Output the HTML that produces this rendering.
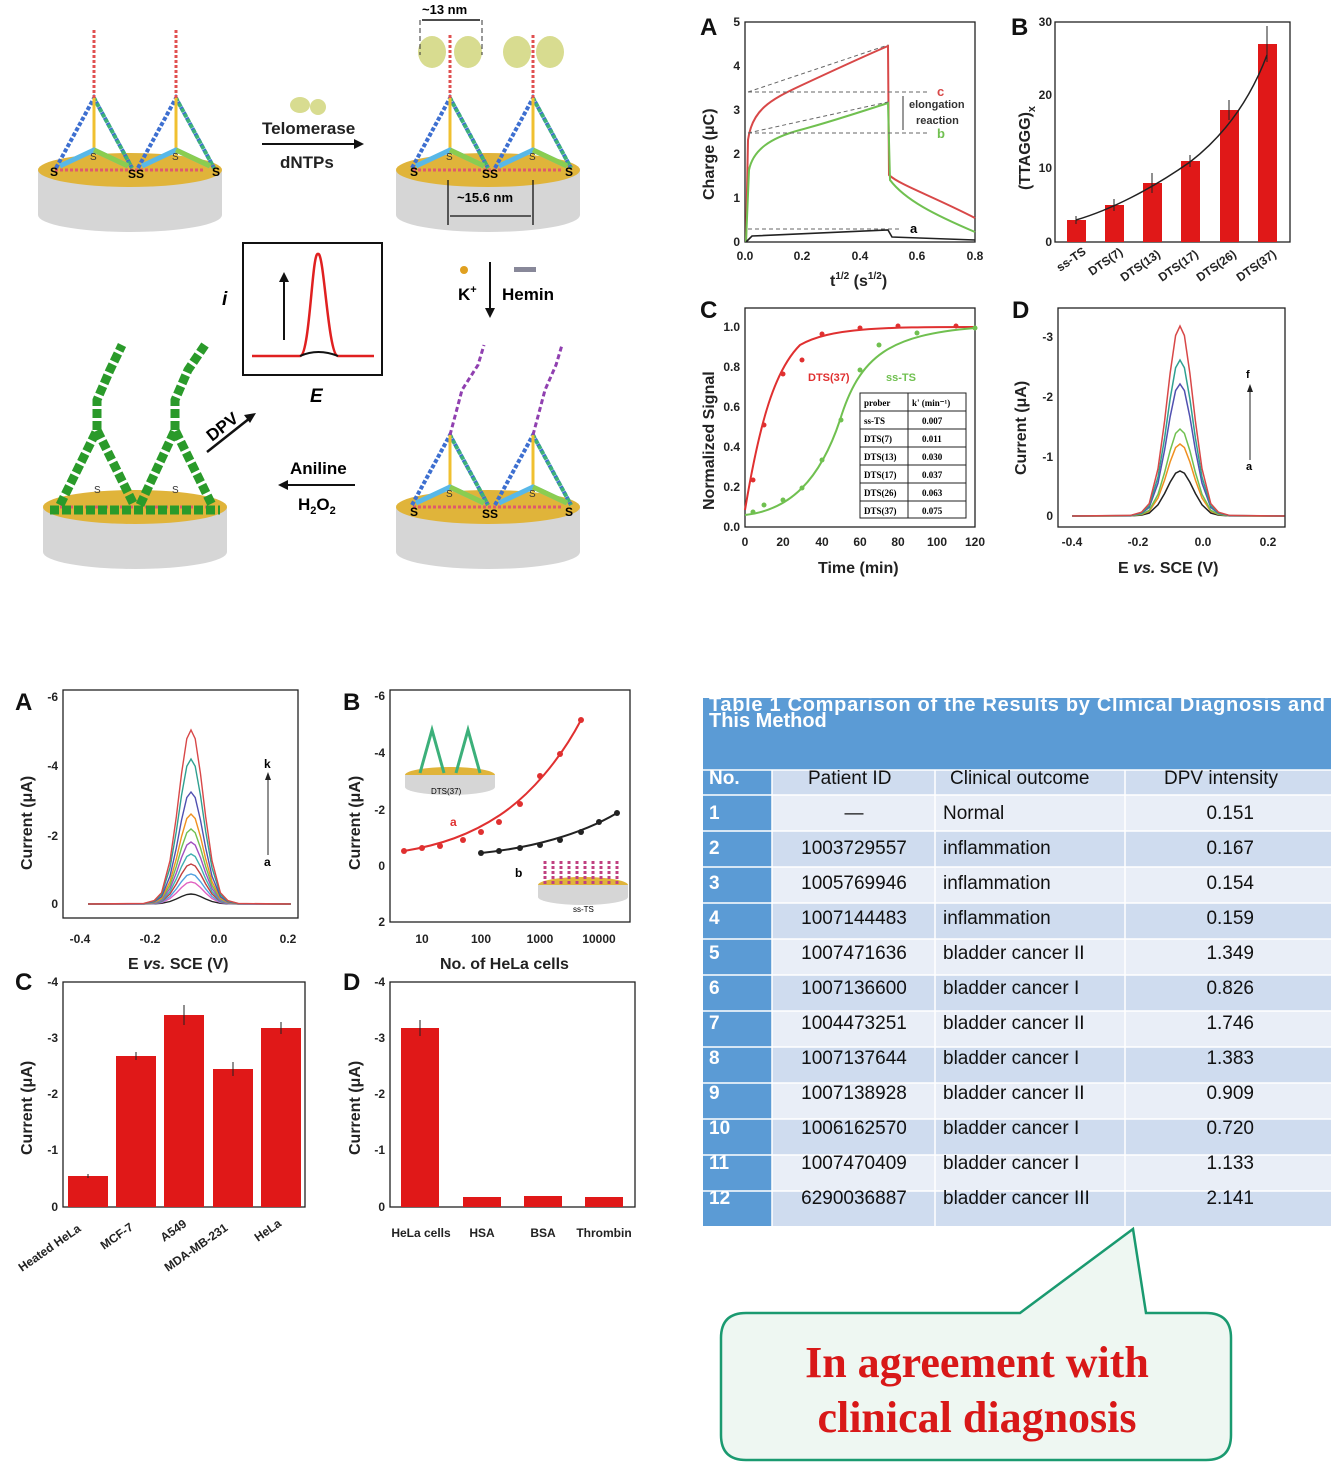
<!DOCTYPE html>
<html><head><meta charset="utf-8"><style>
body{margin:0;background:#fff;}
svg{display:block;font-family:"Liberation Sans",Arial,sans-serif;}
.ax{fill:none;stroke:#222;stroke-width:1.3}
.t{font-size:12px;font-weight:bold;fill:#222}
.lab{font-size:16px;font-weight:bold;fill:#222}
.pl{font-size:24px;font-weight:bold;fill:#111}
.g{vector-effect:non-scaling-stroke;fill:none}
.td{font-family:"Liberation Sans",sans-serif;font-size:19px;fill:#111}
.tn{font-family:"Liberation Sans",sans-serif;font-size:19px;font-weight:bold;fill:#fff}
</style></head><body>
<svg width="1334" height="1471" viewBox="0 0 1334 1471" xmlns="http://www.w3.org/2000/svg">
<defs>
<path id="gs" class="g" d="M-98,0 L-45,0.003 L-35,0.02 L-28,0.065 L-20,0.249 L-14,0.5 L-9,0.75 L-4,0.95 L0,1 L4,0.95 L9,0.75 L14,0.5 L20,0.249 L28,0.065 L35,0.02 L45,0.003 L95,0"/>
<g id="elec">
<path d="M-92,0 L-92,45 A92,17 0 0 0 92,45 L92,0 Z" fill="#d6d6d6"/>
<ellipse cx="0" cy="0" rx="92" ry="17" fill="#e0b43a"/>
<path d="M-75,0 L75,0" stroke="#e05a6a" stroke-width="3" stroke-dasharray="3 2"/>
</g>
<g id="tet">
<path d="M-38,0 L0,-70 L38,0" fill="none" stroke="#3d6fd0" stroke-width="4" stroke-dasharray="4 2"/>
<path d="M0,-70 L38,0" fill="none" stroke="#3cb07a" stroke-width="4" stroke-dasharray="4 2"/>
<path d="M0,-70 L0,-10" stroke="#f0c030" stroke-width="3"/>
<path d="M-34,-2 L0,-18 L34,-2" fill="none" stroke="#58b8e8" stroke-width="5"/>
<path d="M0,-18 L34,-2" fill="none" stroke="#8acd50" stroke-width="5"/>
<text x="-4" y="-8" font-size="10" fill="#333">S</text>
</g>
</defs>

<!-- Schematic -->
<use href="#elec" x="130" y="170"/>
<use href="#tet" x="94" y="168"/><use href="#tet" x="176" y="168"/>
<path d="M94,98 l0,-70" stroke="#e05050" stroke-width="3" stroke-dasharray="3 2"/>
<path d="M176,98 l0,-70" stroke="#e05050" stroke-width="3" stroke-dasharray="3 2"/>
<text x="50" y="176" font-size="12" font-weight="bold">S</text><text x="128" y="178" font-size="12" font-weight="bold">SS</text><text x="212" y="176" font-size="12" font-weight="bold">S</text>

<use href="#elec" x="488" y="170"/>
<use href="#tet" x="450" y="168"/><use href="#tet" x="533" y="168"/>
<path d="M450,98 l0,-65" stroke="#e05050" stroke-width="3" stroke-dasharray="3 2"/>
<path d="M533,98 l0,-65" stroke="#e05050" stroke-width="3" stroke-dasharray="3 2"/>
<ellipse cx="432" cy="52" rx="14" ry="16" fill="#d8dc90"/><ellipse cx="468" cy="52" rx="14" ry="16" fill="#d8dc90"/>
<ellipse cx="517" cy="52" rx="14" ry="16" fill="#d8dc90"/><ellipse cx="550" cy="52" rx="14" ry="16" fill="#d8dc90"/>
<path d="M420,20 L420,55 M482,20 L482,55" stroke="#333" stroke-dasharray="5 3"/>
<path d="M422,20 L480,20" stroke="#111" stroke-width="1.5"/>
<text x="422" y="14" font-size="13" font-weight="bold">~13 nm</text>
<text x="410" y="176" font-size="12" font-weight="bold">S</text><text x="482" y="178" font-size="12" font-weight="bold">SS</text><text x="565" y="176" font-size="12" font-weight="bold">S</text>
<path d="M448,180 L448,225 M533,180 L533,225 M450,216 L531,216" stroke="#111" stroke-width="1.3"/>
<text x="457" y="202" font-size="13" font-weight="bold">~15.6 nm</text>

<ellipse cx="300" cy="105" rx="10" ry="8" fill="#d8dc90"/><ellipse cx="318" cy="107" rx="8" ry="8" fill="#d8dc90"/>
<text x="262" y="134" font-size="17" font-weight="bold" fill="#222">Telomerase</text>
<path d="M262,144 L360,144" stroke="#111" stroke-width="2"/><path d="M364,144 l-10,-5 l0,10z" fill="#111"/>
<text x="280" y="168" font-size="17" font-weight="bold" fill="#222">dNTPs</text>

<circle cx="464" cy="270" r="4" fill="#e0a020"/><rect x="514" y="267" width="22" height="5" fill="#889"/>
<text x="458" y="300" font-size="17" font-weight="bold">K<tspan font-size="11" dy="-7">+</tspan></text>
<text x="502" y="300" font-size="17" font-weight="bold">Hemin</text>
<path d="M490,262 L490,312" stroke="#111" stroke-width="2"/><path d="M490,318 l-5,-10 l10,0z" fill="#111"/>

<rect x="243" y="243" width="139" height="132" fill="#fff" stroke="#111" stroke-width="2"/>
<path d="M252,356 L300,356 C310,356 312,250 318,254 C324,250 328,356 338,356 L374,356" fill="none" stroke="#e02020" stroke-width="2.5"/>
<path d="M300,356 Q318,348 338,356" fill="none" stroke="#111" stroke-width="2"/>
<path d="M284,340 L284,280" stroke="#111" stroke-width="2"/><path d="M284,272 l-5,10 l10,0z" fill="#111"/>
<text x="222" y="305" font-size="19" font-weight="bold" font-style="italic">i</text>
<text x="310" y="402" font-size="19" font-weight="bold" font-style="italic">E</text>

<use href="#elec" x="488" y="507"/>
<use href="#tet" x="450" y="505"/><use href="#tet" x="533" y="505"/>
<path d="M450,435 L462,390 L478,365 L484,345" fill="none" stroke="#9040b0" stroke-width="3" stroke-dasharray="5 3"/>
<path d="M533,435 L545,390 L556,365 L562,345" fill="none" stroke="#9040b0" stroke-width="3" stroke-dasharray="5 3"/>
<text x="410" y="516" font-size="12" font-weight="bold">S</text><text x="482" y="518" font-size="12" font-weight="bold">SS</text><text x="565" y="516" font-size="12" font-weight="bold">S</text>

<text x="290" y="474" font-size="17" font-weight="bold">Aniline</text>
<path d="M285,485 L355,485" stroke="#111" stroke-width="2"/><path d="M278,485 l10,-5 l0,10z" fill="#111"/>
<text x="298" y="510" font-size="17" font-weight="bold">H<tspan font-size="11" dy="4">2</tspan><tspan dy="-4">O</tspan><tspan font-size="11" dy="4">2</tspan></text>
<text x="0" y="0" font-size="17" font-weight="bold" transform="translate(212,442) rotate(-38)">DPV</text>
<path d="M207,452 L250,418" stroke="#111" stroke-width="2.5"/><path d="M256,413 l-12,2 l6,8z" fill="#111"/>

<use href="#elec" x="135" y="507"/>
<g stroke="#2a9a2a" stroke-width="9" stroke-dasharray="9 3" fill="none">
<path d="M60,505 L97,430 L134,505"/><path d="M140,505 L175,430 L212,505"/>
<path d="M97,430 L97,400 L110,370 L122,345"/><path d="M175,430 L175,400 L188,370 L205,345"/>
<path d="M50,510 L220,510"/>
</g>
<text x="94" y="493" font-size="10" fill="#333">S</text><text x="172" y="493" font-size="10" fill="#333">S</text>

<!-- Top-right A -->
<text x="700" y="35" class="pl">A</text>
<rect x="745" y="22" width="230" height="220" class="ax"/>
<g class="t" text-anchor="end"><text x="740" y="246">0</text><text x="740" y="202">1</text><text x="740" y="158">2</text><text x="740" y="114">3</text><text x="740" y="70">4</text><text x="740" y="26">5</text></g>
<g class="t" text-anchor="middle"><text x="745" y="260">0.0</text><text x="802" y="260">0.2</text><text x="860" y="260">0.4</text><text x="917" y="260">0.6</text><text x="975" y="260">0.8</text></g>
<text class="lab" x="0" y="0" transform="translate(714,200) rotate(-90)">Charge (μC)</text>
<text class="lab" x="830" y="286">t<tspan font-size="10" dy="-7">1/2</tspan><tspan dy="7"> (s</tspan><tspan font-size="10" dy="-7">1/2</tspan><tspan dy="7">)</tspan></text>
<path d="M746,242 L748,140 C752,110 770,100 800,86 C830,72 860,58 888,46 L889,175 C900,185 930,195 975,218" fill="none" stroke="#d84848" stroke-width="2"/>
<path d="M746,242 L749,170 C753,150 770,138 800,130 C830,122 860,112 888,103 L890,180 C905,200 935,215 975,232" fill="none" stroke="#70c050" stroke-width="2"/>
<path d="M746,242 L752,236 L888,230 L892,237 L975,240" fill="none" stroke="#222" stroke-width="1.6"/>
<g stroke="#666" stroke-dasharray="4 3" fill="none"><path d="M748,92 L888,45"/><path d="M748,92 L930,92"/><path d="M748,133 L888,102"/><path d="M748,133 L930,133"/><path d="M748,229 L900,229"/></g>
<path d="M903,96 L903,130" stroke="#333"/>
<text x="909" y="108" font-size="11" font-weight="bold" fill="#333">elongation</text><text x="916" y="124" font-size="11" font-weight="bold" fill="#333">reaction</text>
<text x="937" y="96" font-size="13" fill="#d84848" font-weight="bold">c</text><text x="937" y="138" font-size="13" fill="#70c050" font-weight="bold">b</text><text x="910" y="233" font-size="13" font-weight="bold">a</text>

<!-- Top-right B -->
<text x="1011" y="35" class="pl">B</text>
<rect x="1055" y="22" width="235" height="220" class="ax"/>
<g class="t" text-anchor="end" font-size="10"><text x="1052" y="246">0</text><text x="1052" y="172">10</text><text x="1052" y="99">20</text><text x="1052" y="26">30</text></g>
<text class="lab" x="0" y="0" font-size="15" transform="translate(1030,190) rotate(-90)">(TTAGGG)<tspan font-size="11" dy="5">x</tspan></text>
<g fill="#e01818"><rect x="1067" y="220" width="19" height="22"/><rect x="1105" y="205" width="19" height="37"/><rect x="1143" y="183" width="19" height="59"/><rect x="1181" y="161" width="19" height="81"/><rect x="1220" y="110" width="19" height="132"/><rect x="1258" y="44" width="19" height="198"/></g>
<path d="M1076,220 C1110,210 1150,190 1190,162 C1225,135 1250,100 1267,55" fill="none" stroke="#222" stroke-width="1.5"/>
<g stroke="#222"><path d="M1076,216 v8 M1114,199 v12 M1152,173 v20 M1190,155 v12 M1229,100 v20 M1267,26 v36"/></g>
<g class="t" font-size="10"><text transform="translate(1060,272) rotate(-35)">ss-TS</text><text transform="translate(1092,276) rotate(-35)">DTS(7)</text><text transform="translate(1124,282) rotate(-35)">DTS(13)</text><text transform="translate(1162,282) rotate(-35)">DTS(17)</text><text transform="translate(1200,282) rotate(-35)">DTS(26)</text><text transform="translate(1240,282) rotate(-35)">DTS(37)</text></g>

<!-- Top-right C -->
<text x="700" y="318" class="pl">C</text>
<rect x="745" y="308" width="230" height="219" class="ax"/>
<g class="t" text-anchor="end"><text x="740" y="531">0.0</text><text x="740" y="491">0.2</text><text x="740" y="451">0.4</text><text x="740" y="411">0.6</text><text x="740" y="371">0.8</text><text x="740" y="331">1.0</text></g>
<g class="t" text-anchor="middle"><text x="745" y="546">0</text><text x="783" y="546">20</text><text x="822" y="546">40</text><text x="860" y="546">60</text><text x="898" y="546">80</text><text x="937" y="546">100</text><text x="975" y="546">120</text></g>
<text class="lab" x="0" y="0" transform="translate(714,510) rotate(-90)">Normalized Signal</text>
<text class="lab" x="818" y="573">Time (min)</text>
<path d="M745,510 C760,420 775,370 800,345 C830,328 880,327 975,327" fill="none" stroke="#e03030" stroke-width="2"/>
<path d="M745,515 C790,510 820,480 840,420 C860,355 890,335 975,328" fill="none" stroke="#70c050" stroke-width="2"/>
<g fill="#e03030"><circle cx="753" cy="480" r="2.5"/><circle cx="764" cy="425" r="2.5"/><circle cx="783" cy="374" r="2.5"/><circle cx="802" cy="360" r="2.5"/><circle cx="822" cy="334" r="2.5"/><circle cx="860" cy="328" r="2.5"/><circle cx="898" cy="326" r="2.5"/><circle cx="956" cy="326" r="2.5"/></g>
<g fill="#70c050"><circle cx="753" cy="512" r="2.5"/><circle cx="764" cy="505" r="2.5"/><circle cx="783" cy="500" r="2.5"/><circle cx="802" cy="488" r="2.5"/><circle cx="822" cy="460" r="2.5"/><circle cx="841" cy="420" r="2.5"/><circle cx="860" cy="370" r="2.5"/><circle cx="879" cy="345" r="2.5"/><circle cx="917" cy="333" r="2.5"/><circle cx="975" cy="328" r="2.5"/></g>
<text x="808" y="381" font-size="11" fill="#e03030" font-weight="bold">DTS(37)</text><text x="886" y="381" font-size="11" fill="#70c050" font-weight="bold">ss-TS</text>
<rect x="860" y="393" width="106" height="125" fill="#fff" stroke="#222"/>
<g stroke="#222"><path d="M908,393 v125"/><path d="M860,411 h106 M860,429 h106 M860,447 h106 M860,465 h106 M860,483 h106 M860,501 h106"/></g>
<g font-family="Liberation Serif" font-size="9" font-weight="bold"><text x="864" y="406">prober</text><text x="912" y="406">k' (min⁻¹)</text>
<text x="864" y="424">ss-TS</text><text x="922" y="424">0.007</text><text x="864" y="442">DTS(7)</text><text x="922" y="442">0.011</text><text x="864" y="460">DTS(13)</text><text x="922" y="460">0.030</text><text x="864" y="478">DTS(17)</text><text x="922" y="478">0.037</text><text x="864" y="496">DTS(26)</text><text x="922" y="496">0.063</text><text x="864" y="514">DTS(37)</text><text x="922" y="514">0.075</text></g>

<!-- Top-right D -->
<text x="1012" y="318" class="pl">D</text>
<rect x="1058" y="308" width="227" height="219" class="ax"/>
<g class="t" text-anchor="end"><text x="1053" y="520">0</text><text x="1053" y="461">-1</text><text x="1053" y="401">-2</text><text x="1053" y="341">-3</text></g>
<g class="t" text-anchor="middle"><text x="1072" y="546">-0.4</text><text x="1138" y="546">-0.2</text><text x="1203" y="546">0.0</text><text x="1268" y="546">0.2</text></g>
<text class="lab" x="0" y="0" transform="translate(1026,475) rotate(-90)">Current (μA)</text>
<text class="lab" x="1118" y="573">E <tspan font-style="italic">vs.</tspan> SCE (V)</text>
<use href="#gs" stroke="#222" stroke-width="1.5" transform="translate(1180,516) scale(1.1,-45)"/>
<use href="#gs" stroke="#f09020" stroke-width="1.5" transform="translate(1180,516) scale(1.1,-72)"/>
<use href="#gs" stroke="#70c050" stroke-width="1.5" transform="translate(1180,516) scale(1.1,-87)"/>
<use href="#gs" stroke="#5050b0" stroke-width="1.5" transform="translate(1180,516) scale(1.1,-132)"/>
<use href="#gs" stroke="#30a090" stroke-width="1.5" transform="translate(1180,516) scale(1.1,-156)"/>
<use href="#gs" stroke="#d84848" stroke-width="1.5" transform="translate(1180,516) scale(1.1,-190)"/>
<path d="M1250,460 L1250,390" stroke="#222"/><path d="M1250,384 l-3,8 l6,0z" fill="#222"/>
<text x="1246" y="378" font-size="11" font-weight="bold">f</text><text x="1246" y="470" font-size="11" font-weight="bold">a</text>

<!-- Bottom A -->
<text x="15" y="710" class="pl">A</text>
<rect x="63" y="690" width="235" height="228" class="ax"/>
<g class="t" text-anchor="end"><text x="58" y="908">0</text><text x="58" y="840">-2</text><text x="58" y="770">-4</text><text x="58" y="701">-6</text></g>
<g class="t" text-anchor="middle"><text x="80" y="943">-0.4</text><text x="150" y="943">-0.2</text><text x="219" y="943">0.0</text><text x="288" y="943">0.2</text></g>
<text class="lab" x="0" y="0" transform="translate(32,870) rotate(-90)">Current (μA)</text>
<text class="lab" x="128" y="969">E <tspan font-style="italic">vs.</tspan> SCE (V)</text>
<use href="#gs" stroke="#222" stroke-width="1.4" transform="translate(191,904) scale(1.05,-10)"/>
<use href="#gs" stroke="#e060c0" stroke-width="1.4" transform="translate(191,904) scale(1.05,-22)"/>
<use href="#gs" stroke="#50a0e0" stroke-width="1.4" transform="translate(191,904) scale(1.05,-30)"/>
<use href="#gs" stroke="#c04040" stroke-width="1.4" transform="translate(191,904) scale(1.05,-40)"/>
<use href="#gs" stroke="#40b0b0" stroke-width="1.4" transform="translate(191,904) scale(1.05,-50)"/>
<use href="#gs" stroke="#a050c0" stroke-width="1.4" transform="translate(191,904) scale(1.05,-62)"/>
<use href="#gs" stroke="#70c050" stroke-width="1.4" transform="translate(191,904) scale(1.05,-75)"/>
<use href="#gs" stroke="#f09020" stroke-width="1.4" transform="translate(191,904) scale(1.05,-90)"/>
<use href="#gs" stroke="#5050b0" stroke-width="1.4" transform="translate(191,904) scale(1.05,-112)"/>
<use href="#gs" stroke="#30a090" stroke-width="1.4" transform="translate(191,904) scale(1.05,-145)"/>
<use href="#gs" stroke="#d84848" stroke-width="1.4" transform="translate(191,904) scale(1.05,-174)"/>
<path d="M268,855 L268,780" stroke="#222"/><path d="M268,772 l-3,8 l6,0z" fill="#222"/>
<text x="264" y="768" font-size="12" font-weight="bold">k</text><text x="264" y="866" font-size="12" font-weight="bold">a</text>

<!-- Bottom B -->
<text x="343" y="710" class="pl">B</text>
<rect x="390" y="690" width="240" height="232" class="ax"/>
<g class="t" text-anchor="end"><text x="385" y="926">2</text><text x="385" y="870">0</text><text x="385" y="814">-2</text><text x="385" y="757">-4</text><text x="385" y="700">-6</text></g>
<g class="t" text-anchor="middle"><text x="422" y="943">10</text><text x="481" y="943">100</text><text x="540" y="943">1000</text><text x="599" y="943">10000</text></g>
<text class="lab" x="0" y="0" transform="translate(360,870) rotate(-90)">Current (μA)</text>
<text class="lab" x="440" y="969">No. of HeLa cells</text>
<path d="M404,851 C440,845 470,835 500,815 C530,795 560,760 581,720" fill="none" stroke="#e03030" stroke-width="2"/>
<g fill="#e03030"><circle cx="404" cy="851" r="3"/><circle cx="422" cy="848" r="3"/><circle cx="440" cy="846" r="3"/><circle cx="463" cy="840" r="3"/><circle cx="481" cy="832" r="3"/><circle cx="499" cy="822" r="3"/><circle cx="520" cy="804" r="3"/><circle cx="540" cy="776" r="3"/><circle cx="560" cy="754" r="3"/><circle cx="581" cy="720" r="3"/></g>
<path d="M481,853 C530,848 580,835 617,813" fill="none" stroke="#222" stroke-width="2"/>
<g fill="#222"><circle cx="481" cy="853" r="3"/><circle cx="499" cy="851" r="3"/><circle cx="520" cy="848" r="3"/><circle cx="540" cy="845" r="3"/><circle cx="560" cy="840" r="3"/><circle cx="581" cy="832" r="3"/><circle cx="599" cy="822" r="3"/><circle cx="617" cy="813" r="3"/></g>
<text x="450" y="826" font-size="12" fill="#e03030" font-weight="bold">a</text><text x="515" y="877" font-size="12" font-weight="bold">b</text>
<ellipse cx="450" cy="775" rx="45" ry="8" fill="#e0b43a"/><path d="M405,775 v12 a45,8 0 0 0 90,0 v-12" fill="#d6d6d6"/>
<path d="M420,773 L432,730 L444,773 M456,773 L468,730 L480,773" fill="none" stroke="#3cb07a" stroke-width="3"/>
<text x="431" y="794" font-size="8">DTS(37)</text>
<ellipse cx="583" cy="885" rx="45" ry="8" fill="#e0b43a"/><path d="M538,885 v12 a45,8 0 0 0 90,0 v-12" fill="#d6d6d6"/>
<path d="M545,884 V860 M553,884 V860 M561,884 V860 M569,884 V860 M577,884 V860 M585,884 V860 M593,884 V860 M601,884 V860 M609,884 V860 M617,884 V860" stroke="#c04080" stroke-width="3" stroke-dasharray="3 2"/>
<text x="573" y="912" font-size="8">ss-TS</text>

<!-- Bottom C -->
<text x="15" y="990" class="pl">C</text>
<rect x="63" y="982" width="242" height="225" class="ax"/>
<g class="t" text-anchor="end"><text x="58" y="1211">0</text><text x="58" y="1154">-1</text><text x="58" y="1098">-2</text><text x="58" y="1042">-3</text><text x="58" y="986">-4</text></g>
<text class="lab" x="0" y="0" transform="translate(32,1155) rotate(-90)">Current (μA)</text>
<g fill="#e01818"><rect x="68" y="1176" width="40" height="31"/><rect x="116" y="1056" width="40" height="151"/><rect x="164" y="1015" width="40" height="192"/><rect x="213" y="1069" width="40" height="138"/><rect x="261" y="1028" width="40" height="179"/></g>
<g stroke="#222"><path d="M88,1174 v4 M136,1052 v8 M184,1005 v20 M233,1062 v14 M281,1022 v12"/></g>
<g class="t" font-size="11"><text transform="translate(22,1272) rotate(-35)">Heated HeLa</text><text transform="translate(104,1250) rotate(-35)">MCF-7</text><text transform="translate(164,1242) rotate(-35)">A549</text><text transform="translate(168,1272) rotate(-35)">MDA-MB-231</text><text transform="translate(258,1242) rotate(-35)">HeLa</text></g>

<!-- Bottom D -->
<text x="343" y="990" class="pl">D</text>
<rect x="390" y="982" width="245" height="225" class="ax"/>
<g class="t" text-anchor="end"><text x="385" y="1211">0</text><text x="385" y="1154">-1</text><text x="385" y="1098">-2</text><text x="385" y="1042">-3</text><text x="385" y="986">-4</text></g>
<text class="lab" x="0" y="0" transform="translate(360,1155) rotate(-90)">Current (μA)</text>
<g fill="#e01818"><rect x="401" y="1028" width="38" height="179"/><rect x="463" y="1197" width="38" height="10"/><rect x="524" y="1196" width="38" height="11"/><rect x="585" y="1197" width="38" height="10"/></g>
<path d="M420,1020 v16" stroke="#222"/>
<g class="t" text-anchor="middle" font-size="12"><text x="421" y="1237">HeLa cells</text><text x="482" y="1237">HSA</text><text x="543" y="1237">BSA</text><text x="604" y="1237">Thrombin</text></g>

<!-- Table -->
<rect x="703" y="698" width="628" height="72" fill="#5b9bd5"/>
<clipPath id="tc"><rect x="703" y="698" width="628" height="72"/></clipPath>
<g clip-path="url(#tc)" font-family="Liberation Sans" font-size="20" font-weight="bold" fill="#fff">
<text x="709" y="711" textLength="616">Table 1 Comparison of the Results by Clinical Diagnosis and</text>
<text x="709" y="727">This Method</text></g>
<rect x="703" y="770" width="69" height="456" fill="#5b9bd5"/>
<rect x="772" y="770" width="559" height="456" fill="#cfdcef"/>
<g fill="#e9eef7"><rect x="772" y="795" width="559" height="36"/><rect x="772" y="867" width="559" height="36"/><rect x="772" y="939" width="559" height="36"/><rect x="772" y="1011" width="559" height="36"/><rect x="772" y="1083" width="559" height="36"/><rect x="772" y="1155" width="559" height="36"/></g>
<g stroke="#fff" stroke-width="1.5"><path d="M703,770 H1331"/>
<path d="M703,795 H1331 M703,831 H1331 M703,867 H1331 M703,903 H1331 M703,939 H1331 M703,975 H1331 M703,1011 H1331 M703,1047 H1331 M703,1083 H1331 M703,1119 H1331 M703,1155 H1331 M703,1191 H1331"/>
<path d="M772,770 V1226 M935,770 V1226 M1125,770 V1226"/></g>
<text class="tn" x="709" y="784">No.</text>
<g class="td"><text x="808" y="784">Patient ID</text><text x="950" y="784">Clinical outcome</text><text x="1164" y="784">DPV intensity</text></g>
<g class="tn"><text x="709" y="819">1</text><text x="709" y="854">2</text><text x="709" y="889">3</text><text x="709" y="924">4</text><text x="709" y="959">5</text><text x="709" y="994">6</text><text x="709" y="1029">7</text><text x="709" y="1064">8</text><text x="709" y="1099">9</text><text x="709" y="1134">10</text><text x="709" y="1169">11</text><text x="709" y="1204">12</text></g>
<g class="td" text-anchor="middle"><text x="854" y="819">—</text><text x="854" y="854">1003729557</text><text x="854" y="889">1005769946</text><text x="854" y="924">1007144483</text><text x="854" y="959">1007471636</text><text x="854" y="994">1007136600</text><text x="854" y="1029">1004473251</text><text x="854" y="1064">1007137644</text><text x="854" y="1099">1007138928</text><text x="854" y="1134">1006162570</text><text x="854" y="1169">1007470409</text><text x="854" y="1204">6290036887</text></g>
<g class="td"><text x="943" y="819">Normal</text><text x="943" y="854">inflammation</text><text x="943" y="889">inflammation</text><text x="943" y="924">inflammation</text><text x="943" y="959">bladder cancer II</text><text x="943" y="994">bladder cancer I</text><text x="943" y="1029">bladder cancer II</text><text x="943" y="1064">bladder cancer I</text><text x="943" y="1099">bladder cancer II</text><text x="943" y="1134">bladder cancer I</text><text x="943" y="1169">bladder cancer I</text><text x="943" y="1204">bladder cancer III</text></g>
<g class="td" text-anchor="end"><text x="1254" y="819">0.151</text><text x="1254" y="854">0.167</text><text x="1254" y="889">0.154</text><text x="1254" y="924">0.159</text><text x="1254" y="959">1.349</text><text x="1254" y="994">0.826</text><text x="1254" y="1029">1.746</text><text x="1254" y="1064">1.383</text><text x="1254" y="1099">0.909</text><text x="1254" y="1134">0.720</text><text x="1254" y="1169">1.133</text><text x="1254" y="1204">2.141</text></g>

<!-- Callout -->
<path d="M746,1313 L1020,1313 L1133,1229 L1146,1313 L1206,1313 Q1231,1313 1231,1338 L1231,1435 Q1231,1460 1206,1460 L746,1460 Q721,1460 721,1435 L721,1338 Q721,1313 746,1313 Z" fill="#eef7f2" stroke="#1a9a70" stroke-width="2.5"/>
<g font-family="Liberation Serif" font-size="44" font-weight="bold" fill="#d81818" text-anchor="middle"><text x="977" y="1377">In agreement with</text><text x="977" y="1432">clinical diagnosis</text></g>
</svg>
</body></html>
